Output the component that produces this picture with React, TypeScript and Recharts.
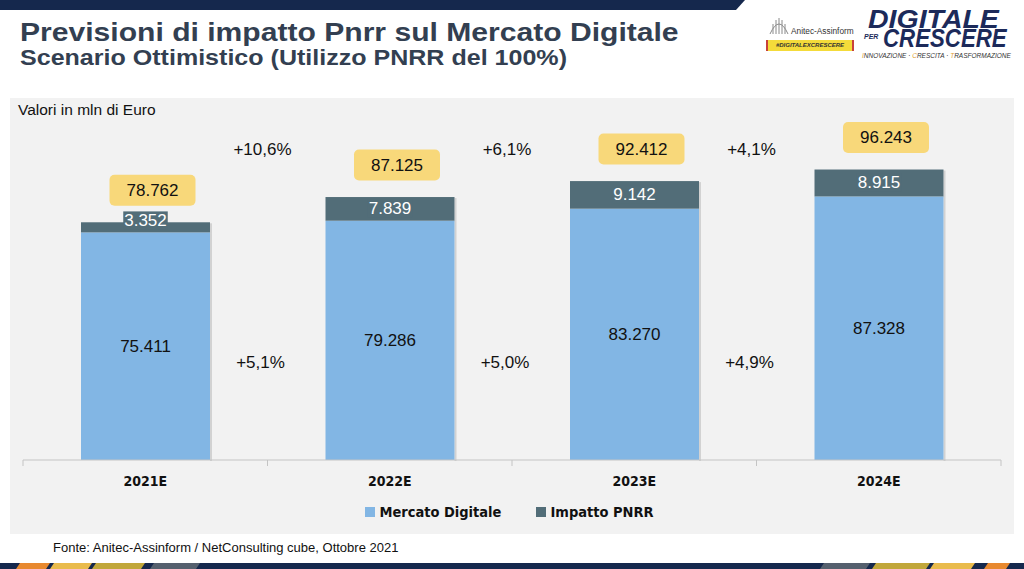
import { BarChart, Bar, XAxis, YAxis, Legend, LabelList } from "recharts";

const YEARS = ["2021E", "2022E", "2023E", "2024E"];
const MERCATO = [75411, 79286, 83270, 87328];
const IMPATTO = [3352, 7839, 9142, 8915];
const TOTALI = [78762, 87125, 92412, 96243];
// growth between consecutive years: total (top row) and digital market (bottom row)
const CRESCITA_TOTALE = ["+10,6%", "+6,1%", "+4,1%"];
const CRESCITA_MERCATO = ["+5,1%", "+5,0%", "+4,9%"];

const BLUE = "#82b6e4";
const DARK = "#526d78";
const YELLOW = "#f8d87a";
const SANS = "'Liberation Sans', Arial, Helvetica, sans-serif";
const NARROW = "'Liberation Sans Narrow', 'Arial Narrow', 'DejaVu Sans Condensed', sans-serif";

const data = YEARS.map((year, i) => ({
  year,
  mercato: MERCATO[i],
  impatto: IMPATTO[i],
  totale: TOTALI[i],
}));

const fmt = (v: number) => String(v).replace(/\B(?=(\d{3})+(?!\d))/g, ".");

function YearTick(props: any) {
  const { x, y, payload, index } = props;
  const half = payload?.offset ?? (1024 - 46) / 8;
  const last = index === YEARS.length - 1;
  return (
    <g>
      <line x1={x - half} x2={x - half} y1={y} y2={y + 6} stroke="#c4c4c4" />
      {last && <line x1={x + half} x2={x + half} y1={y} y2={y + 6} stroke="#c4c4c4" />}
      <text
        x={x}
        y={y + 21}
        textAnchor="middle"
        dominantBaseline="central"
        fontFamily={NARROW}
        fontWeight={700}
        fontSize={14}
        fill="#111"
      >
        {payload.value}
      </text>
      {index < CRESCITA_TOTALE.length && (
        <>
          <text x={x + half - 5} y={y - 311} textAnchor="middle" dominantBaseline="central"
            fontFamily={SANS} fontSize={17} fill="#111">
            {CRESCITA_TOTALE[index]}
          </text>
          <text x={x + half - 7} y={y - 98} textAnchor="middle" dominantBaseline="central"
            fontFamily={SANS} fontSize={17} fill="#111">
            {CRESCITA_MERCATO[index]}
          </text>
        </>
      )}
    </g>
  );
}

function ShadowBar(props: any) {
  const { x, y, width, height, fill } = props;
  if (!height || height <= 0) return null;
  return (
    <g>
      <rect x={x + width} y={y + 1} width={2} height={height} fill="rgba(0,0,0,0.13)" />
      <rect x={x} y={y} width={width} height={height} fill={fill} />
    </g>
  );
}

function ImpattoLabel(props: any) {
  const { x, y, width, height, value } = props;
  const text = fmt(Number(value));
  const cx = x + width / 2;
  const cy = Math.min(y + height / 2, y + height - 12);
  const w = text.length * 8.5 + 2;
  return (
    <g>
      <rect x={cx - w / 2} y={cy - 9} width={w} height={18} fill={DARK} />
      <text x={cx} y={cy} textAnchor="middle" dominantBaseline="central"
        fontFamily={SANS} fontSize={17} fill="#fff">
        {text}
      </text>
    </g>
  );
}

function TotaleLabel(props: any) {
  const { x, y, width, value } = props;
  const cx = x + width / 2 + 7;
  const cy = y - 32;
  return (
    <g>
      <rect x={cx - 43} y={cy - 15.5} width={86} height={31} rx={5} fill={YELLOW} />
      <text x={cx} y={cy} textAnchor="middle" dominantBaseline="central"
        fontFamily={SANS} fontSize={17} fill="#111">
        {fmt(Number(value))}
      </text>
    </g>
  );
}

function LegendBox() {
  const items = [
    { name: "Mercato Digitale", color: BLUE },
    { name: "Impatto PNRR", color: DARK },
  ];
  return (
    <div style={{ display: "flex", justifyContent: "center", gap: 35, fontFamily: NARROW, fontWeight: 700, fontSize: 14.5, color: "#111", paddingRight: 5 }}>
      {items.map((it) => (
        <div key={it.name} style={{ display: "flex", alignItems: "center", gap: 4 }}>
          <span style={{ width: 10, height: 10, background: it.color, display: "inline-block" }} />
          <span>{it.name}</span>
        </div>
      ))}
    </div>
  );
}

const LOGO_BLUE = "#1c2a5a";

export default function App() {
  return (
    <div style={{ position: "absolute", left: 0, top: 0, width: 1024, height: 569, background: "#fff", overflow: "hidden", fontFamily: SANS }}>
      <svg width={1024} height={569} style={{ position: "absolute", left: 0, top: 0 }}>
        <polygon points="0,0 745,0 736,10 0,10" fill="#15284d" />
        <rect x={0} y={563} width={1024} height={6} fill="#15284d" />
        <polygon points="16,569 20,563 50,563 46,569" fill="#e8892f" />
        <polygon points="50,569 54,563 92,563 88,569" fill="#e9bb4c" />
        <polygon points="92,569 96,563 145,563 141,569" fill="#c1a73a" />
        <polygon points="150,569 154,563 200,563 196,569" fill="#55606e" />
        <polygon points="820,569 824,563 870,563 866,569" fill="#55606e" />
        <polygon points="872,569 876,563 930,563 926,569" fill="#c1a73a" />
        <polygon points="930,569 934,563 975,563 971,569" fill="#e9bb4c" />
        <polygon points="984,569 988,563 1010,563 1006,569" fill="#e8892f" />
        {/* Anitec-Assinform mark */}
        <g stroke="#8a8a8a" strokeWidth={1} fill="none">
          <path d="M770,34 Q779,14 788,34" />
          <line x1={773} y1={24} x2={773} y2={34} />
          <line x1={776} y1={20} x2={776} y2={34} />
          <line x1={779} y1={18} x2={779} y2={34} />
          <line x1={782} y1={20} x2={782} y2={34} />
          <line x1={785} y1={24} x2={785} y2={34} />
        </g>
      </svg>

      <div style={{ position: "absolute", left: 20, top: 21, fontSize: 26, lineHeight: "22px", fontWeight: 700, color: "#333f51", whiteSpace: "nowrap", transform: "scaleX(1.157)", transformOrigin: "left top" }}>
        Previsioni di impatto Pnrr sul Mercato Digitale
      </div>
      <div style={{ position: "absolute", left: 20, top: 50, fontSize: 21.5, lineHeight: "17px", fontWeight: 700, color: "#333f51", whiteSpace: "nowrap", transform: "scaleX(1.165)", transformOrigin: "left top" }}>
        Scenario Ottimistico (Utilizzo PNRR del 100%)
      </div>

      <div style={{ position: "absolute", left: 791, top: 26, fontSize: 8.3, color: "#333", whiteSpace: "nowrap" }}>
        Anitec-Assinform
      </div>
      <div style={{ position: "absolute", left: 766, top: 40, width: 84, height: 11, background: "#f4db3a", fontSize: 6, fontWeight: 700, fontStyle: "italic", color: "#333", textAlign: "center", lineHeight: "11px", borderLeft: "2px solid #c8413a", borderRight: "2px solid #c8413a" }}>
        #DIGITALEXCRESCERE
      </div>
      <div style={{ position: "absolute", left: 868, top: 11, fontSize: 25, fontWeight: 700, fontStyle: "italic", color: LOGO_BLUE, lineHeight: "17px", transform: "scaleX(1.14)", transformOrigin: "left top" }}>
        DIGITALE
      </div>
      <div style={{ position: "absolute", left: 864, top: 33, fontSize: 7, lineHeight: "7px", fontWeight: 700, fontStyle: "italic", color: LOGO_BLUE }}>
        PER
      </div>
      <div style={{ position: "absolute", left: 883, top: 30, fontSize: 25, fontWeight: 700, fontStyle: "italic", color: LOGO_BLUE, lineHeight: "17px", transform: "scaleX(0.89)", transformOrigin: "left top" }}>
        CRESCERE
      </div>
      <div style={{ position: "absolute", left: 862, top: 52, fontSize: 6.5, fontStyle: "italic", color: "#333", whiteSpace: "nowrap" }}>
        <span style={{ color: "#e0a030" }}>I</span>NNOVAZIONE · <span style={{ color: "#e0a030" }}>C</span>RESCITA · <span style={{ color: "#e0a030" }}>T</span>RASFORMAZIONE
      </div>

      <div style={{ position: "absolute", left: 10, top: 98, width: 1004, height: 436, background: "#f2f2f2" }} />
      <div style={{ position: "absolute", left: 18, top: 101, fontSize: 15.5, color: "#111", whiteSpace: "nowrap" }}>
        Valori in mln di Euro
      </div>

      <div style={{ position: "absolute", left: 0, top: 0 }}>
        <BarChart
          width={1024}
          height={569}
          data={data}
          margin={{ top: 128, right: 23, left: 23, bottom: 79 }}
        >
          <XAxis
            dataKey="year"
            height={30}
            axisLine={{ stroke: "#c4c4c4" }}
            tickLine={false}
            tickSize={0}
            tickMargin={0}
            tick={<YearTick />}
            interval={0}
          />
          <YAxis hide domain={[0, 110000]} />
          <Legend
            verticalAlign="middle"
            align="center"
            layout="horizontal"
            wrapperStyle={{ top: 504, left: 0, width: 1024 }}
            content={<LegendBox />}
          />
          <Bar dataKey="mercato" stackId="a" fill={BLUE} barSize={129} shape={<ShadowBar />} isAnimationActive={false}>
            <LabelList
              dataKey="mercato"
              position="center"
              formatter={(v: any) => fmt(Number(v))}
              style={{ fontFamily: SANS, fontSize: 17, fill: "#111" }}
            />
          </Bar>
          <Bar dataKey="impatto" stackId="a" fill={DARK} barSize={129} shape={<ShadowBar />} isAnimationActive={false}>
            <LabelList dataKey="impatto" content={<ImpattoLabel />} />
            <LabelList dataKey="totale" content={<TotaleLabel />} />
          </Bar>
        </BarChart>
      </div>

      <div style={{ position: "absolute", left: 53, top: 540, fontSize: 13, color: "#111", whiteSpace: "nowrap" }}>
        Fonte: Anitec-Assinform / NetConsulting cube, Ottobre  2021
      </div>
    </div>
  );
}
